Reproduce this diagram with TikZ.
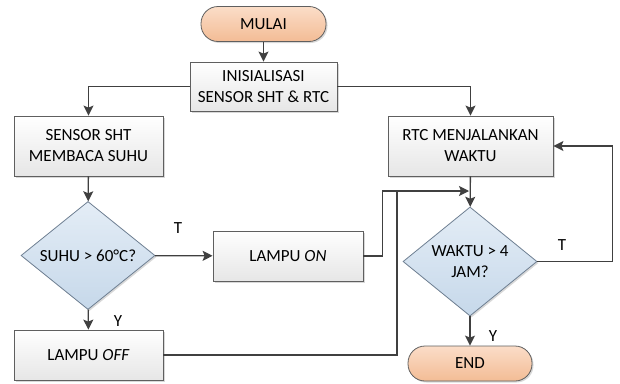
\documentclass[tikz,border=0pt]{standalone}
\usepackage{fontspec}
\setmainfont{Carlito}
\usetikzlibrary{shapes.geometric,arrows.meta,shadows}
\definecolor{boxline}{HTML}{5F5F5F}
\definecolor{boxbot}{HTML}{E6E6E6}
\definecolor{termtop}{HTML}{FBDDC8}
\definecolor{termbot}{HTML}{F3BC95}
\definecolor{diatop}{HTML}{E4EDF6}
\definecolor{diabot}{HTML}{C6D8EA}
\definecolor{diline}{HTML}{6E7F92}
\definecolor{lineclr}{HTML}{404040}
\begin{document}
\begin{tikzpicture}[x=1pt,y=-1pt,
  base/.style={font=\fontsize{17}{21}\selectfont, align=center, inner sep=0pt, line width=0.8pt},
  shad/.style={drop shadow={shadow xshift=1.5pt, shadow yshift=-1.5pt, fill=black!30, opacity=0.5}},
  procbox/.style={base, rectangle, draw=boxline, top color=white, bottom color=boxbot, shad},
  termbox/.style={base, rectangle, rounded corners=17pt, draw=boxline, top color=termtop, bottom color=termbot, minimum height=35pt, shad},
  decbox/.style={base, diamond, draw=diline, top color=diatop, bottom color=diabot, minimum width=134pt, minimum height=107pt, shad},
  flow/.style={draw=lineclr, line width=1.3pt, -{Stealth[length=10pt,width=10pt,inset=2pt]}},
  plain/.style={draw=lineclr, line width=1.3pt},
  lbl/.style={font=\fontsize{17}{21}\selectfont, inner sep=0pt}
]
\useasboundingbox (0,0) rectangle (620,383);

\node[termbox, minimum width=125pt] (mulai) at (263.5,24) {MULAI};
\node[procbox, minimum width=147pt, minimum height=49pt] (init) at (263.5,86.5) {INISIALISASI\\SENSOR SHT \& RTC};
\node[procbox, minimum width=149pt, minimum height=60pt] (sensor) at (88.5,146) {SENSOR SHT\\MEMBACA SUHU};
\node[procbox, minimum width=165pt, minimum height=60pt] (rtc) at (470.5,146) {RTC MENJALANKAN\\WAKTU};
\node[decbox] (d1) at (88,255.5) {SUHU > 60°C?};
\node[procbox, minimum width=150pt, minimum height=50pt] (on) at (288,256) {LAMPU \textit{ON}};
\node[procbox, minimum width=149pt, minimum height=50pt] (off) at (88.5,355) {LAMPU \textit{OFF}};
\node[decbox] (d2) at (470,261.5) {WAKTU > 4\\JAM?};
\node[termbox, minimum width=124pt] (end) at (470,363.5) {END};

\node[lbl] (t1) at (178,228) {T};
\node[lbl] (y1) at (118,321) {Y};
\node[lbl] (t2) at (562,245) {T};
\node[lbl] (y2) at (493,336) {Y};

\coordinate (merge) at (469,191);
\coordinate (offj) at (397,191);

\draw[flow] (mulai) -- (init);
\draw[flow] (init.west) -| (sensor.north);
\draw[flow] (init.east) -| (rtc.north);
\draw[flow] (sensor) -- (d1);
\draw[flow] (d1) -- (on);
\draw[flow] (d1) -- (off);
\draw[flow] (rtc) -- (d2);
\draw[flow] (d2) -- (end);
\draw[flow] (on.east) -- ++(19,0) |- (merge);
\draw[plain] (off.east) -| (offj);
\draw[flow] (d2.east) -- ++(75,0) |- (rtc.east);
\end{tikzpicture}
\end{document}
